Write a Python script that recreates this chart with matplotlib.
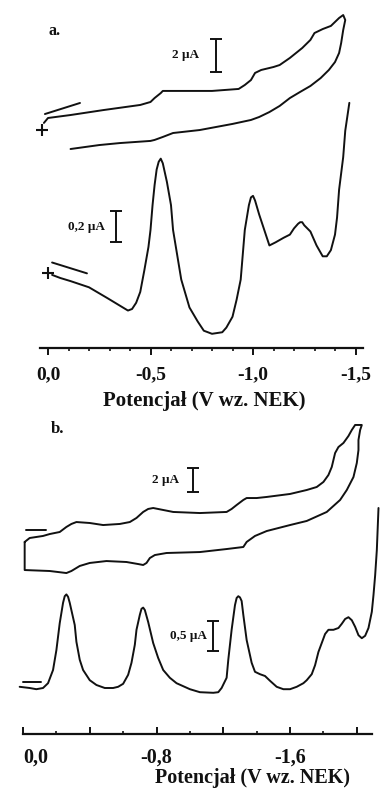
import matplotlib
matplotlib.use('Agg')
import matplotlib.pyplot as plt
from matplotlib.ticker import MultipleLocator

# ---- panel a: cyclic voltammogram, potential (V) and current (uA) ----
cv_a_E = [0.02, 0.00, -0.11, -0.27, -0.45, -0.50, -0.52, -0.55, -0.56, -0.66,
          -0.80, -0.93, -0.96, -0.99, -1.01, -1.04, -1.10, -1.13, -1.18, -1.24,
          -1.28, -1.30, -1.34, -1.38, -1.42, -1.44,
          -1.45, -1.44, -1.43, -1.42, -1.40, -1.37, -1.33, -1.28, -1.23, -1.18,
          -1.13, -1.08, -1.03, -0.99, -0.90, -0.74, -0.61, -0.56, -0.52, -0.50,
          -0.35, -0.25, -0.11]
cv_a_I = [1.64, 1.94, 2.12, 2.42, 2.73, 2.91, 3.15, 3.45, 3.58, 3.58,
          3.58, 3.70, 3.94, 4.24, 4.67, 4.85, 5.03, 5.15, 5.58, 6.18,
          6.67, 7.09, 7.33, 7.52, 8.00, 8.18,
          7.88, 7.27, 6.48, 5.88, 5.33, 4.85, 4.36, 3.88, 3.52, 3.15,
          2.67, 2.30, 2.00, 1.82, 1.58, 1.21, 1.03, 0.79, 0.61, 0.55,
          0.42, 0.30, 0.06]
cv_a_start = (0.03, 1.21)
cv_a_dir_E = [0.015, -0.156]
cv_a_dir_I = [2.18, 2.85]
cv_a_bar = (-0.82, 4.73, 2.0)          # position, bottom, length (uA)

# ---- panel a: differential pulse voltammogram ----
dpv_a_E = [-0.02, -0.06, -0.11, -0.20, -0.29, -0.34, -0.39, -0.41, -0.43, -0.45,
           -0.46, -0.47, -0.49, -0.50, -0.51, -0.52, -0.53, -0.54, -0.55, -0.56,
           -0.57, -0.58, -0.60, -0.61, -0.63, -0.65, -0.69, -0.73, -0.76, -0.80,
           -0.85, -0.87, -0.90, -0.92, -0.94, -0.96, -0.98, -0.99, -1.00, -1.01,
           -1.03, -1.06, -1.08, -1.11, -1.15, -1.18, -1.20, -1.22, -1.23, -1.24,
           -1.25, -1.28, -1.31, -1.34, -1.36, -1.38, -1.40, -1.41, -1.42, -1.44,
           -1.45, -1.47]
dpv_a_I = [0.42, 0.40, 0.38, 0.34, 0.27, 0.23, 0.19, 0.20, 0.24, 0.31,
           0.38, 0.45, 0.60, 0.71, 0.87, 1.00, 1.10, 1.15, 1.17, 1.14,
           1.08, 1.02, 0.87, 0.71, 0.55, 0.39, 0.21, 0.12, 0.06, 0.04,
           0.05, 0.08, 0.15, 0.26, 0.39, 0.71, 0.87, 0.92, 0.93, 0.90,
           0.81, 0.69, 0.61, 0.63, 0.66, 0.68, 0.72, 0.75, 0.76, 0.76,
           0.74, 0.70, 0.61, 0.54, 0.54, 0.58, 0.68, 0.79, 0.97, 1.18,
           1.35, 1.53]
dpv_a_start = (0.00, 0.43)
dpv_a_dir_E = [-0.02, -0.19]
dpv_a_dir_I = [0.50, 0.43]
dpv_a_bar = (-0.33, 0.63, 0.2)

# ---- panel b: cyclic voltammogram ----
cv_b_E = [-0.01, -0.04, -0.12, -0.16, -0.22, -0.26, -0.29, -0.32, -0.40, -0.48,
          -0.58, -0.64, -0.68, -0.72, -0.75, -0.78, -0.90, -1.06, -1.22, -1.25,
          -1.28, -1.32, -1.34, -1.40, -1.46, -1.60, -1.70, -1.76, -1.80, -1.83,
          -1.85, -1.87, -1.89, -1.92, -1.95, -1.97, -1.99, -2.03,
          -2.02, -2.01, -2.01, -2.00, -1.98, -1.94, -1.90, -1.82, -1.70, -1.60,
          -1.46, -1.39, -1.34, -1.32, -1.22, -1.06, -0.86, -0.79, -0.76, -0.74,
          -0.72, -0.69, -0.62, -0.50, -0.40, -0.34, -0.29, -0.26, -0.16, -0.01,
          -0.01]
cv_b_I = [3.17, 3.50, 3.67, 3.83, 4.00, 4.42, 4.67, 4.83, 4.75, 4.58,
          4.67, 4.83, 5.17, 5.67, 5.92, 6.00, 5.67, 5.58, 5.67, 5.92,
          6.25, 6.67, 6.83, 6.83, 6.92, 7.17, 7.50, 7.75, 8.17, 8.75,
          9.42, 10.58, 11.08, 11.42, 12.00, 12.50, 12.92, 12.92,
          12.50, 11.67, 10.83, 9.75, 8.58, 7.50, 6.67, 5.67, 4.92, 4.58,
          4.08, 3.67, 3.17, 2.75, 2.58, 2.33, 2.25, 2.08, 1.83, 1.42,
          1.25, 1.33, 1.50, 1.58, 1.42, 1.17, 0.75, 0.58, 0.75, 0.83,
          3.17]
cv_b_dash_E = [-0.02, -0.14]
cv_b_dash_I = [4.17, 4.17]
cv_b_bar = (-1.02, 7.33, 2.0)

# ---- panel b: differential pulse voltammogram ----
dpv_b_E = [0.02, -0.04, -0.08, -0.12, -0.15, -0.18, -0.20, -0.22, -0.24, -0.25,
           -0.26, -0.27, -0.28, -0.31, -0.32, -0.34, -0.36, -0.40, -0.44, -0.49,
           -0.54, -0.57, -0.60, -0.63, -0.65, -0.67, -0.68, -0.70, -0.71, -0.72,
           -0.73, -0.75, -0.78, -0.81, -0.84, -0.88, -0.92, -1.00, -1.06, -1.14,
           -1.17, -1.19, -1.22, -1.23, -1.25, -1.27, -1.28, -1.29, -1.30, -1.31,
           -1.32, -1.34, -1.37, -1.39, -1.42, -1.45, -1.48, -1.52, -1.56, -1.60,
           -1.64, -1.68, -1.70, -1.73, -1.75, -1.77, -1.79, -1.81, -1.83, -1.86,
           -1.89, -1.91, -1.93, -1.95, -1.97, -1.99, -2.01, -2.03, -2.05, -2.07,
           -2.09, -2.10, -2.11, -2.12, -2.13]
dpv_b_I = [0.22, 0.20, 0.18, 0.20, 0.28, 0.50, 0.83, 1.28, 1.62, 1.73,
           1.76, 1.72, 1.62, 1.25, 0.97, 0.67, 0.50, 0.33, 0.25, 0.20,
           0.20, 0.22, 0.27, 0.42, 0.62, 0.92, 1.17, 1.42, 1.52, 1.54,
           1.50, 1.30, 0.95, 0.70, 0.50, 0.37, 0.28, 0.18, 0.13, 0.12,
           0.13, 0.20, 0.37, 0.67, 1.17, 1.58, 1.70, 1.73, 1.71, 1.65,
           1.42, 1.00, 0.62, 0.47, 0.43, 0.40, 0.32, 0.22, 0.18, 0.18,
           0.22, 0.28, 0.33, 0.43, 0.58, 0.80, 0.95, 1.10, 1.17, 1.17,
           1.20, 1.27, 1.35, 1.38, 1.33, 1.22, 1.08, 1.03, 1.07, 1.20,
           1.47, 1.75, 2.08, 2.50, 3.20]
dpv_b_dash_E = [0.00, -0.11]
dpv_b_dash_I = [0.30, 0.30]
dpv_b_bar = (-1.14, 0.82, 0.5)

ticks_a = [0.0, -0.5, -1.0, -1.5]
ticklabels_a = ['0,0', '-0,5', '-1,0', '-1,5']
ticks_b = [0.0, -0.4, -0.8, -1.2, -1.6, -2.0]
ticklabels_b = ['0,0', '', '-0,8', '', '-1,6', '']
xlabel = 'Potencjał (V wz. NEK)'

W, H = 380, 789
plt.rcParams['font.family'] = ['Liberation Serif', 'DejaVu Serif']
plt.rcParams['font.weight'] = 'bold'
INK = '#111111'
LW = 1.4

fig = plt.figure(figsize=(W / 100, H / 100), dpi=100)


def make_axes(box, x0, px_per_V, y0=None, px_per_uA=None):
    """Axes over a pixel box (left, right, top, bottom); E = 0 at pixel x0."""
    l, r, t, b = box
    ax = fig.add_axes([l / W, 1 - b / H, (r - l) / W, (b - t) / H])
    ax.set_xlim((x0 - l) / px_per_V, (x0 - r) / px_per_V)
    if y0 is not None:
        ax.set_ylim((y0 - b) / px_per_uA, (y0 - t) / px_per_uA)
    ax.patch.set_alpha(0)
    for s in ax.spines.values():
        s.set_visible(False)
    ax.set_yticks([])
    ax.set_xticks([])
    return ax


def scale_bar(ax, bar, label, gap):
    e, lo, size = bar
    ax.errorbar([e], [lo + size / 2], yerr=[size / 2], fmt='none',
                ecolor=INK, elinewidth=LW, capsize=4.5, capthick=LW)
    ax.annotate(label, xy=(e, lo + size / 2), xytext=(-gap, 0),
                textcoords='offset points', ha='right', va='center',
                fontsize=9.5, color=INK)


def trace(ax, E, I):
    ax.plot(E, I, color=INK, lw=LW, solid_joinstyle='round',
            solid_capstyle='round')


# ---------------- panel a ----------------
box_a = (30, 375, 0, 348)
base_a = make_axes(box_a, 48, 205)
base_a.spines['bottom'].set_visible(True)
base_a.spines['bottom'].set_linewidth(1.6)
base_a.spines['bottom'].set_color(INK)
base_a.spines['bottom'].set_bounds(0.039, -1.537)
base_a.set_xticks(ticks_a, ticklabels_a)
base_a.xaxis.set_minor_locator(MultipleLocator(0.1))
base_a.tick_params(axis='x', which='major', direction='out', length=5,
                   width=1.4, pad=8, labelsize=14, colors=INK)
base_a.tick_params(axis='x', which='minor', direction='out', length=2.5,
                   width=1.2, colors=INK)
fig.text(204 / W, 1 - 401 / H, xlabel, ha='center', va='center',
         fontsize=15, color=INK)
fig.text(55 / W, 1 - 31 / H, 'a.', ha='center', va='center',
         fontsize=11.5, color=INK)

ax_cva = make_axes(box_a, 48, 205, 150, 16.5)
trace(ax_cva, cv_a_E, cv_a_I)
trace(ax_cva, cv_a_dir_E, cv_a_dir_I)
ax_cva.plot(*cv_a_start, marker='+', ms=9, mew=1.5, color=INK)
scale_bar(ax_cva, cv_a_bar, '2 μA', 12)

ax_dpva = make_axes(box_a, 48, 205, 340, 155)
trace(ax_dpva, dpv_a_E, dpv_a_I)
trace(ax_dpva, dpv_a_dir_E, dpv_a_dir_I)
ax_dpva.plot(*dpv_a_start, marker='+', ms=9, mew=1.5, color=INK)
scale_bar(ax_dpva, dpv_a_bar, '0,2 μA', 8)

# ---------------- panel b ----------------
box_b = (10, 380, 400, 734)
base_b = make_axes(box_b, 23, 166.9)
base_b.spines['bottom'].set_visible(True)
base_b.spines['bottom'].set_linewidth(1.6)
base_b.spines['bottom'].set_color(INK)
base_b.spines['bottom'].set_bounds(0.0, -2.09)
base_b.set_xticks(ticks_b, ticklabels_b)
base_b.xaxis.set_minor_locator(MultipleLocator(0.2))
base_b.tick_params(axis='x', which='major', direction='in', length=5,
                   width=1.4, pad=10, labelsize=14.5, colors=INK)
base_b.tick_params(axis='x', which='minor', direction='in', length=2.5,
                   width=1.2, colors=INK)
base_b.get_xticklabels()[0].set_ha('left')
fig.text(253 / W, 1 - 783 / H, xlabel, ha='center', va='baseline',
         fontsize=14.5, color=INK)
fig.text(58 / W, 1 - 429 / H, 'b.', ha='center', va='center',
         fontsize=12, color=INK)

ax_cvb = make_axes(box_b, 23, 166.9, 580, 12)
trace(ax_cvb, cv_b_E, cv_b_I)
trace(ax_cvb, cv_b_dash_E, cv_b_dash_I)
scale_bar(ax_cvb, cv_b_bar, '2 μA', 10)

ax_dpvb = make_axes(box_b, 23, 166.9, 700, 60)
trace(ax_dpvb, dpv_b_E, dpv_b_I)
trace(ax_dpvb, dpv_b_dash_E, dpv_b_dash_I)
scale_bar(ax_dpvb, dpv_b_bar, '0,5 μA', 4.5)

fig.savefig('out.png', dpi=100, facecolor='white')
